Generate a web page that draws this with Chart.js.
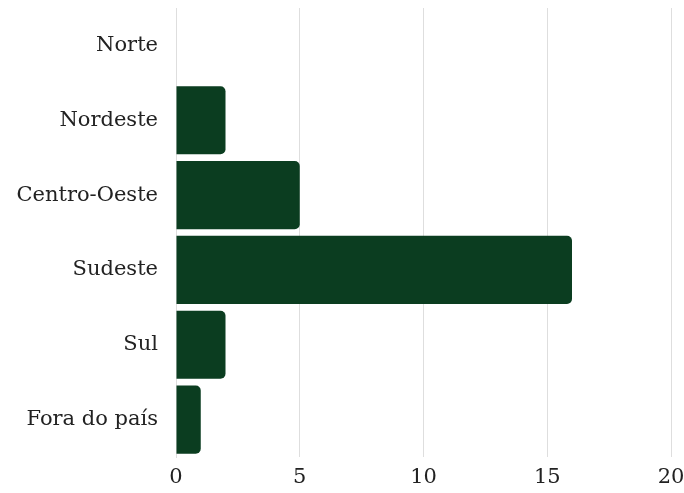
<!DOCTYPE html>
<html>
<head>
<meta charset="utf-8">
<script src="https://cdn.jsdelivr.net/npm/chart.js@4/dist/chart.umd.min.js"></script>
<style>
  html, body { margin: 0; padding: 0; background: #ffffff; }
  #wrap { width: 684px; height: 493px; }
</style>
</head>
<body>
<div id="wrap"><canvas id="regionChart" width="684" height="493"></canvas></div>
<script>
// === Data ===
const regions = ["Norte", "Nordeste", "Centro-Oeste", "Sudeste", "Sul", "Fora do país"];
const counts = [0, 2, 5, 16, 2, 1];
const xTicks = [0, 5, 10, 15, 20];

const barColor = "#0b3d20";
const gridColor = "#dedede";
const textColor = "#222222";
const fontFamily = "'DejaVu Serif', 'Liberation Serif', serif";

const regionChart = new Chart(document.getElementById("regionChart"), {
    type: "bar",
    data: {
        labels: regions,
        datasets: [{
            label: "Respostas",
            data: counts,
            backgroundColor: barColor,
            borderRadius: { topRight: 5, bottomRight: 5, topLeft: 0, bottomLeft: 0 },
            borderSkipped: false,
            categoryPercentage: 1,
            barPercentage: 0.91
        }]
    },
    options: {
        indexAxis: "y",
        responsive: false,
        animation: false,
        layout: { padding: { top: 8, right: 13, left: 0, bottom: 0 } },
        plugins: {
            legend: { display: false },
            tooltip: { enabled: false }
        },
        scales: {
            x: {
                min: xTicks[0],
                max: xTicks[xTicks.length - 1],
                afterBuildTicks: scale => { scale.ticks = xTicks.map(v => ({ value: v })); },
                afterFit: scale => {
                    scale.height = 36;
                    scale.paddingLeft = 0;
                    scale.paddingRight = 0;
                },
                grid: { color: gridColor, drawTicks: false, lineWidth: 1 },
                border: { display: false },
                ticks: {
                    color: textColor,
                    padding: 8,
                    maxRotation: 0,
                    font: { family: fontFamily, size: 21 }
                }
            },
            y: {
                afterFit: scale => {
                    scale.width = 176;
                    scale.paddingTop = 0;
                    scale.paddingBottom = 0;
                },
                grid: { display: false, drawTicks: false },
                border: { display: true, color: gridColor, width: 1 },
                ticks: {
                    color: textColor,
                    padding: 18,
                    font: { family: fontFamily, size: 21 }
                }
            }
        }
    }
});
</script>
</body>
</html>
